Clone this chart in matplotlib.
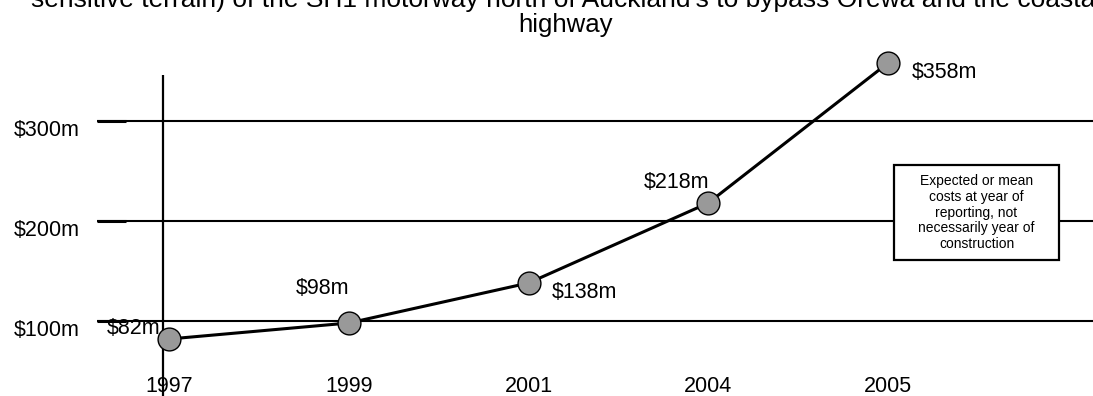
import matplotlib
matplotlib.use("Agg")
import matplotlib.pyplot as plt
from matplotlib.patches import Rectangle
from matplotlib.transforms import blended_transform_factory

plt.rcParams['font.family'] = ['Liberation Sans', 'DejaVu Sans']

# Reported cost estimates for the motorway extension
years = ["1997", "1999", "2001", "2004", "2005"]
costs = [82, 98, 138, 218, 358]
cost_labels = ["$82m", "$98m", "$138m", "$218m", "$358m"]
grid_values = [100, 200, 300]
grid_labels = ["$100m", "$200m", "$300m"]
title_line1 = "sensitive terrain) of the SH1 motorway north of Auckland's to bypass Orewa and the coastal"
title_line2 = "highway"
note = "Expected or mean\ncosts at year of\nreporting, not\nnecessarily year of\nconstruction"

W, H, DPI = 1093, 396, 100
fig = plt.figure(figsize=(W / DPI, H / DPI), dpi=DPI)
ax = fig.add_axes([0, 0, 1, 1])
ax.set_axis_off()

# Pixel-aligned data limits: gridline $100m sits 321 px from the top
TOP = 421
ax.set_ylim(TOP - H, TOP)
x0_px, x4_px = 169, 888
per_px = (len(years) - 1) / (x4_px - x0_px)
ax.set_xlim(-x0_px * per_px, (len(years) - 1) + (W - x4_px) * per_px)

def xpx(p):
    return -x0_px * per_px + p * per_px

def ypx(p):
    return TOP - p

FS = 15.5

# Horizontal gridlines with heavier stubs on the left
for v, lab in zip(grid_values, grid_labels):
    ax.plot([xpx(97), xpx(W)], [v, v], color="black", lw=1.5, zorder=1,
            solid_capstyle="butt")
    ax.plot([xpx(97), xpx(126)], [v, v], color="black", lw=2.2, zorder=1,
            solid_capstyle="butt")
    ax.text(xpx(80), v - 10, lab, ha="right", va="center", fontsize=FS)

# Vertical axis line
ax.plot([xpx(162.5), xpx(162.5)], [ypx(75), ypx(H)], color="black", lw=1.6,
        zorder=1, solid_capstyle="butt")

# Cost series
xs = list(range(len(years)))
ax.plot(xs, costs, color="black", lw=2.2, zorder=2)
ax.scatter(xs, costs, s=270, facecolor="#999999", edgecolor="black",
           linewidths=1.0, zorder=3)

label_offsets = [(-35, 10), (-26, 35), (56, -10), (-32, 21), (56, -10)]
for x, c, lab, (dx, dy) in zip(xs, costs, cost_labels, label_offsets):
    ax.annotate(lab, (x, c), xytext=(dx, dy), textcoords="offset pixels",
                ha="center", va="center", fontsize=FS, zorder=4)

# Year labels along the bottom
trans = blended_transform_factory(ax.transData, fig.transFigure)
for x, yr in zip(xs, years):
    ax.text(x, 1 - 387 / H, yr, ha="center", va="center", fontsize=FS,
            transform=trans)

# Explanatory note box
ax.add_patch(Rectangle((xpx(894), ypx(260)), xpx(1059) - xpx(894), 95,
                       facecolor="white", edgecolor="black", linewidth=1.6,
                       zorder=5))
ax.text(xpx(976.5), ypx(212.5), note, ha="center", va="center", fontsize=10,
        linespacing=1.18, zorder=6)

# Title (top line runs past the canvas edge)
fig.text(566 / W, 1 - 0 / H, title_line1, ha="center", va="center",
         fontsize=19)
fig.text(566 / W, 1 - 25 / H, title_line2, ha="center", va="center",
         fontsize=18.5)

fig.savefig("out.png", dpi=DPI)
